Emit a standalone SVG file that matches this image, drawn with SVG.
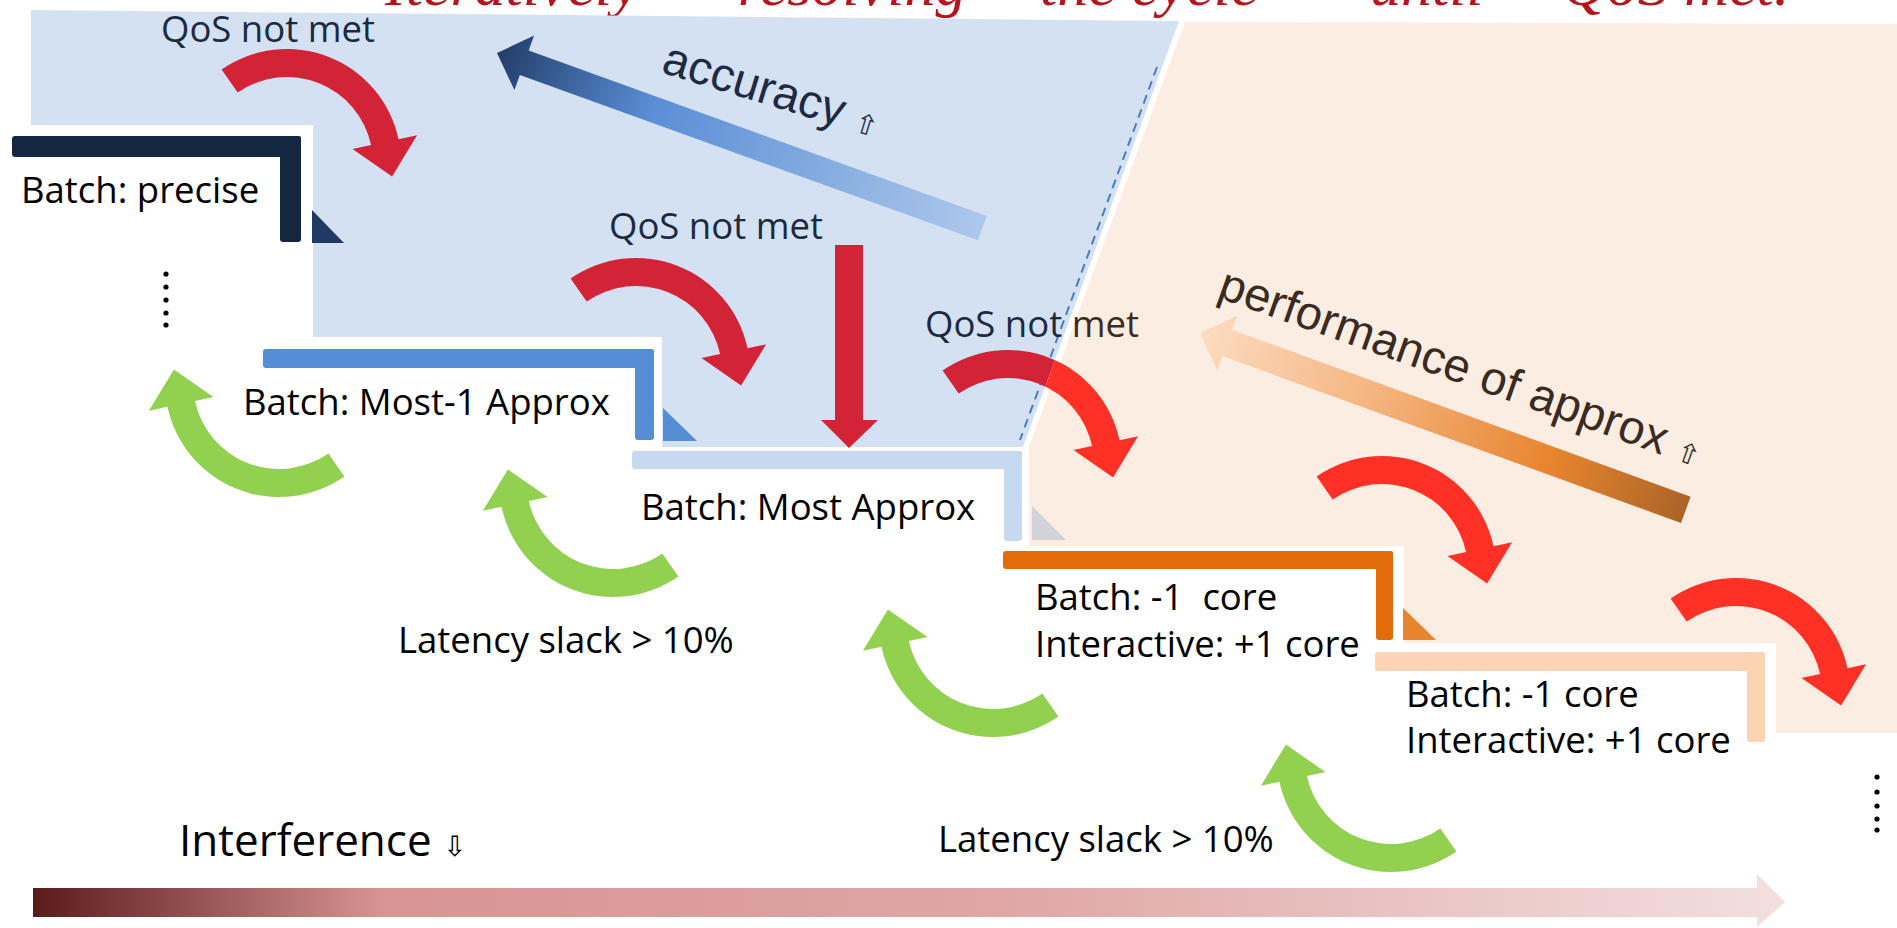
<svg xmlns="http://www.w3.org/2000/svg" width="1897" height="928" viewBox="0 0 1897 928">
<style>
.lbl{font-family:"Open Sans","Noto Sans",sans-serif;font-size:36.5px;fill:#000}
.qos{fill:#1b2a41}
.big{font-family:"Liberation Sans",Arial,sans-serif;font-size:47px}
.sym{font-family:"DejaVu Sans",sans-serif;font-size:28px}
.red{fill:#d32336}
.bred{fill:#ff3127}
.grn{fill:#92d050}
.dot{fill:#000}
</style>
<defs>
<path id="curve" d="M-65.39,-93.39 A114,114 0 0 1 111.51,-23.70 L130.09,-27.65 L105.09,13.44 L65.53,-13.93 L84.12,-17.88 A86,86 0 0 0 -49.33,-70.45 Z"/>
<linearGradient id="gAcc" gradientUnits="userSpaceOnUse" x1="0" y1="0" x2="516" y2="0">
<stop offset="0" stop-color="#223d6a"/><stop offset="0.32" stop-color="#5a8ed6"/><stop offset="1" stop-color="#adc8eb"/>
</linearGradient>
<linearGradient id="gPerf" gradientUnits="userSpaceOnUse" x1="0" y1="0" x2="517" y2="0">
<stop offset="0" stop-color="#fcdcc2"/><stop offset="0.35" stop-color="#f5b581"/><stop offset="0.72" stop-color="#e8852e"/><stop offset="1" stop-color="#ab6428"/>
</linearGradient>
<linearGradient id="gInt" gradientUnits="userSpaceOnUse" x1="33" y1="0" x2="1785" y2="0">
<stop offset="0" stop-color="#5a1b1b"/><stop offset="0.2" stop-color="#d79492"/><stop offset="0.55" stop-color="#dfa6a5"/><stop offset="1" stop-color="#f3dfdf"/>
</linearGradient>
<clipPath id="cL"><polygon points="0,0 1187,0 967,600 0,600"/></clipPath>
<clipPath id="cR"><polygon points="1187,0 1897,0 1897,600 967,600"/></clipPath>
</defs>

<text id="title" y="5" font-family="Liberation Serif, serif" font-style="italic" font-size="62" fill="#b8141c"><tspan x="385">Iteratively</tspan><tspan x="738">resolving</tspan><tspan x="1040">the cycle</tspan><tspan x="1370">until</tspan><tspan x="1562">QoS met.</tspan></text>

<g id="regions">
<polygon points="31,10 1179,21 1023,447 662,447 662,337 313,337 313,125 31,125" fill="#d4e1f2"/>
<polygon points="1185,22 1897,24 1897,733 1776,733 1776,643 1404,643 1404,546 1029,546 1029,447" fill="#fcede2"/>
<line x1="1157" y1="67" x2="1020" y2="440" stroke="#4a7cc4" stroke-width="2" stroke-dasharray="9 6"/>
</g>

<g id="n1">
<rect x="12" y="136" width="289" height="21" rx="3" fill="#132741"/>
<rect x="280" y="136" width="21" height="106" rx="3" fill="#132741"/>
<path d="M312,210 L344,243 L312,243 Z" fill="#1f3b63"/>
<text class="lbl" x="21" y="203">Batch: precise</text>
</g>
<g id="ellipsis-left" class="dot">
<circle cx="166" cy="274" r="2.6"/><circle cx="166" cy="287" r="2.6"/><circle cx="166" cy="300" r="2.6"/><circle cx="166" cy="313" r="2.6"/><circle cx="166" cy="325" r="2.6"/>
</g>
<g id="n2">
<rect x="263" y="349" width="391" height="19" rx="3" fill="#558ed5"/>
<rect x="635" y="349" width="19" height="91" rx="3" fill="#558ed5"/>
<path d="M663,408 L697,441 L663,441 Z" fill="#558ed5"/>
<text class="lbl" x="243" y="415">Batch: Most-1 Approx</text>
</g>
<g id="n3">
<rect x="632" y="451" width="390" height="18" rx="3" fill="#c6d9f0"/>
<rect x="1004" y="451" width="18" height="90" rx="3" fill="#c6d9f0"/>
<path d="M1032,506 L1066,540 L1032,540 Z" fill="#d2d2da"/>
<text class="lbl" x="641" y="520">Batch: Most Approx</text>
</g>
<g id="n4">
<rect x="1003" y="551" width="390" height="18" rx="3" fill="#e36c0a"/>
<rect x="1376" y="551" width="17" height="89" rx="3" fill="#e36c0a"/>
<path d="M1403,608 L1436,640 L1403,640 Z" fill="#e8832e"/>
<text class="lbl" x="1035" y="610" xml:space="preserve">Batch: -1  core</text>
<text class="lbl" x="1035" y="657">Interactive: +1 core</text>
</g>
<g id="n5">
<rect x="1375" y="652" width="390" height="19" rx="3" fill="#fbd4b4"/>
<rect x="1747" y="652" width="18" height="90" rx="3" fill="#fbd4b4"/>
<text class="lbl" x="1406" y="707">Batch: -1 core</text>
<text class="lbl" x="1406" y="753">Interactive: +1 core</text>
</g>
<g id="ellipsis-right" class="dot">
<circle cx="1877" cy="777" r="2.6"/><circle cx="1877" cy="792" r="2.6"/><circle cx="1877" cy="806" r="2.6"/><circle cx="1877" cy="819" r="2.6"/><circle cx="1877" cy="830" r="2.6"/>
</g>

<g id="trend-arrows">
<g transform="translate(497,53) rotate(19.84)">
<polygon points="0,0 29,-29 29,-13 516,-13 516,13 29,13 29,29" fill="url(#gAcc)"/>
</g>
<text class="big" fill="#1e2a44" transform="translate(660,72) rotate(17)">accuracy <tspan class="sym" fill="#1e2a44">⇧</tspan></text>
<g transform="translate(1200,333) rotate(20)">
<polygon points="0,0 29,-29 29,-14 517,-14 517,14 29,14 29,29" fill="url(#gPerf)"/>
</g>
<text class="big" fill="#3a2b22" transform="translate(1216,297) rotate(19.5)">performance of approx <tspan class="sym">⇧</tspan></text>
<polygon points="33,888 1757,888 1757,874 1785,902 1757,927 1757,917 33,917" fill="url(#gInt)"/>
<text x="179" y="856" font-family="Open Sans, sans-serif" font-size="44" fill="#000">Interference <tspan font-family="DejaVu Sans, sans-serif" font-size="28">⇩</tspan></text>
</g>

<g id="connectors">
<use href="#curve" class="red" transform="translate(287,163)"/>
<use href="#curve" class="red" transform="translate(636,372)"/>
<polygon class="red" points="835,245 863,245 863,420 878,420 849,448 821,420 835,420"/>
<g clip-path="url(#cL)"><use href="#curve" class="red" transform="translate(1008,464)"/></g>
<g clip-path="url(#cR)"><use href="#curve" class="bred" transform="translate(1008,464)"/></g>
<use href="#curve" class="bred" transform="translate(1382,570)"/>
<use href="#curve" class="bred" transform="translate(1736,692)"/>
<use href="#curve" class="grn" transform="translate(279,383) rotate(180)"/>
<use href="#curve" class="grn" transform="translate(613,483) rotate(180)"/>
<use href="#curve" class="grn" transform="translate(993,623) rotate(180)"/>
<use href="#curve" class="grn" transform="translate(1391,758) rotate(180)"/>
<text class="lbl qos" x="161" y="42">QoS not met</text>
<text class="lbl qos" x="609" y="239">QoS not met</text>
<g clip-path="url(#cL)"><text class="lbl qos" x="925" y="337">QoS not met</text></g>
<g clip-path="url(#cR)"><text class="lbl" style="fill:#3b2b22" x="925" y="337">QoS not met</text></g>
<text class="lbl" x="398" y="653">Latency slack &gt; 10%</text>
<text class="lbl" x="938" y="852">Latency slack &gt; 10%</text>
</g>
</svg>
